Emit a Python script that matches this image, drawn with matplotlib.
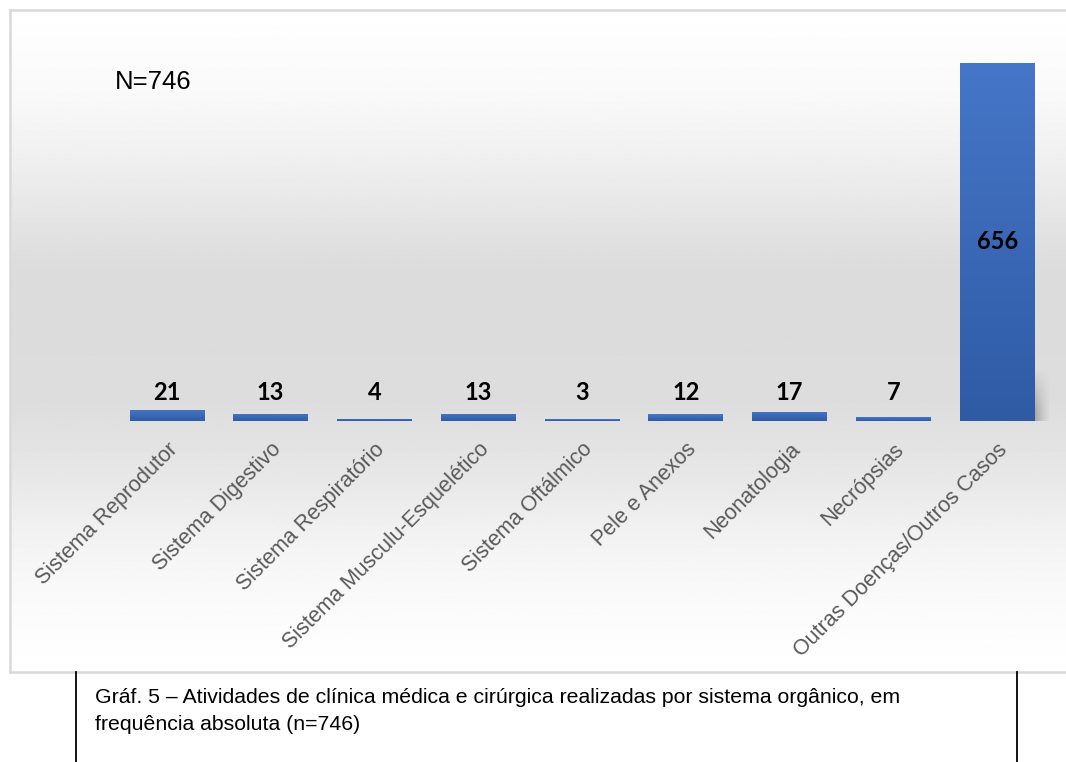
import numpy as np
import matplotlib
matplotlib.use("Agg")
import matplotlib.pyplot as plt
from matplotlib.colors import LinearSegmentedColormap

categorias = ["Sistema Reprodutor", "Sistema Digestivo", "Sistema Respiratório",
              "Sistema Musculu-Esquelético", "Sistema Oftálmico", "Pele e Anexos",
              "Neonatologia", "Necrópsias", "Outras Doenças/Outros Casos"]
valores = [21, 13, 4, 13, 3, 12, 17, 7, 656]
total = 746
legenda = ("Gráf. 5 – Atividades de clínica médica e cirúrgica realizadas por sistema orgânico, em\n"
           "frequência absoluta (n=746)")

W, H = 1066, 762
fig = plt.figure(figsize=(W / 100, H / 100), dpi=100)
fig.patch.set_facecolor("white")

# fundo do gráfico: gradiente vertical cinza dentro da moldura
fx0, fx1, fy0, fy1 = 9.5, 1075, 10, 671.5
bg = fig.add_axes([fx0 / W, 1 - fy1 / H, (fx1 - fx0) / W, (fy1 - fy0) / H], zorder=0)
ys = np.array([10, 100, 180, 270, 400, 480, 560, 630, 671.5])
gs = np.array([1.0, 0.975, 0.925, 0.86, 0.865, 0.91, 0.965, 0.99, 1.0])
yy = np.linspace(fy0, fy1, 600)
col = np.interp(yy, ys, gs)
# suaviza as transições
k = np.hanning(41)
k /= k.sum()
col = np.convolve(np.pad(col, 20, mode="edge"), k, mode="valid")
img = np.repeat(col[:, None], 2, axis=1)
bg.imshow(img, cmap="gray", vmin=0, vmax=1, aspect="auto", extent=[0, 1, 0, 1])
bg.set_xlim(0, 1)
bg.set_ylim(0, 1)
bg.set_xticks([])
bg.set_yticks([])
for s in bg.spines.values():
    s.set_edgecolor("#d9d9d9")
    s.set_linewidth(1.8)

# eixo das barras
x0, x1 = 115, 1049
base, topo = 421, 38.8
ax = fig.add_axes([x0 / W, 1 - base / H, (x1 - x0) / W, (base - topo) / H], zorder=2)
ax.patch.set_alpha(0)
ax.set_xlim(-0.5, len(valores) - 0.5)
ax.set_ylim(0, 700)

x = np.arange(len(valores))
barras = ax.bar(x, valores, width=0.72, color="#3d69b7", zorder=3)

azul = LinearSegmentedColormap.from_list("azul", ["#2f5ba5", "#4676c8"])
grad = np.linspace(0, 1, 256)[:, None]
for b in barras:
    bx, by = b.get_x(), b.get_y()
    bw, bh = b.get_width(), b.get_height()
    im = ax.imshow(grad, cmap=azul, aspect="auto", origin="lower",
                   extent=[bx, bx + bw, by, by + bh], zorder=4)
    im.set_clip_path(b)

# sombra suave à direita da barra maior
big = barras[-1]
sx = big.get_x() + big.get_width()
sh = np.zeros((60, 40, 4))
fade_x = np.linspace(1, 0, 40) ** 1.5
fade_y = np.clip(np.linspace(1.2, -0.4, 60), 0, 1)
sh[..., :3] = 0.45
sh[..., 3] = 0.55 * fade_y[:, None] * fade_x[None, :]
ax.imshow(sh, origin="lower", aspect="auto", extent=[sx, sx + 0.17, 0, 130], zorder=2)
ax.set_xlim(-0.5, len(valores) - 0.5)
ax.set_ylim(0, 700)

for xi, v in zip(x, valores):
    yl = v / 2 if v > 100 else 53
    ax.text(xi, yl, str(v), ha="center", va="center", fontsize=17,
            fontweight="bold", family="Lato", color="black", zorder=6)

ax.set_xticks(x)
ax.set_xticklabels(categorias, rotation=45, ha="right", rotation_mode="anchor",
                   fontsize=15.5, family="Liberation Sans", color="#595959")
ax.tick_params(axis="x", length=0, pad=13)
ax.set_yticks([])
for s in ax.spines.values():
    s.set_visible(False)

fig.text(115 / W, 1 - 82 / H, f"N={total}", fontsize=18.5, family="Liberation Sans",
         ha="left", va="center", color="black")

# caixa da legenda abaixo do gráfico
fig.add_artist(plt.Line2D([76 / W, 76 / W], [0, 1 - 672 / H], color="black", lw=1.3))
fig.add_artist(plt.Line2D([1017 / W, 1017 / W], [0, 1 - 672 / H], color="black", lw=1.3))
fig.text(95 / W, 1 - 688 / H, legenda, fontsize=15.3, family="Liberation Sans",
         ha="left", va="top", color="black", linespacing=1.5)

fig.savefig("out.png", dpi=100)
